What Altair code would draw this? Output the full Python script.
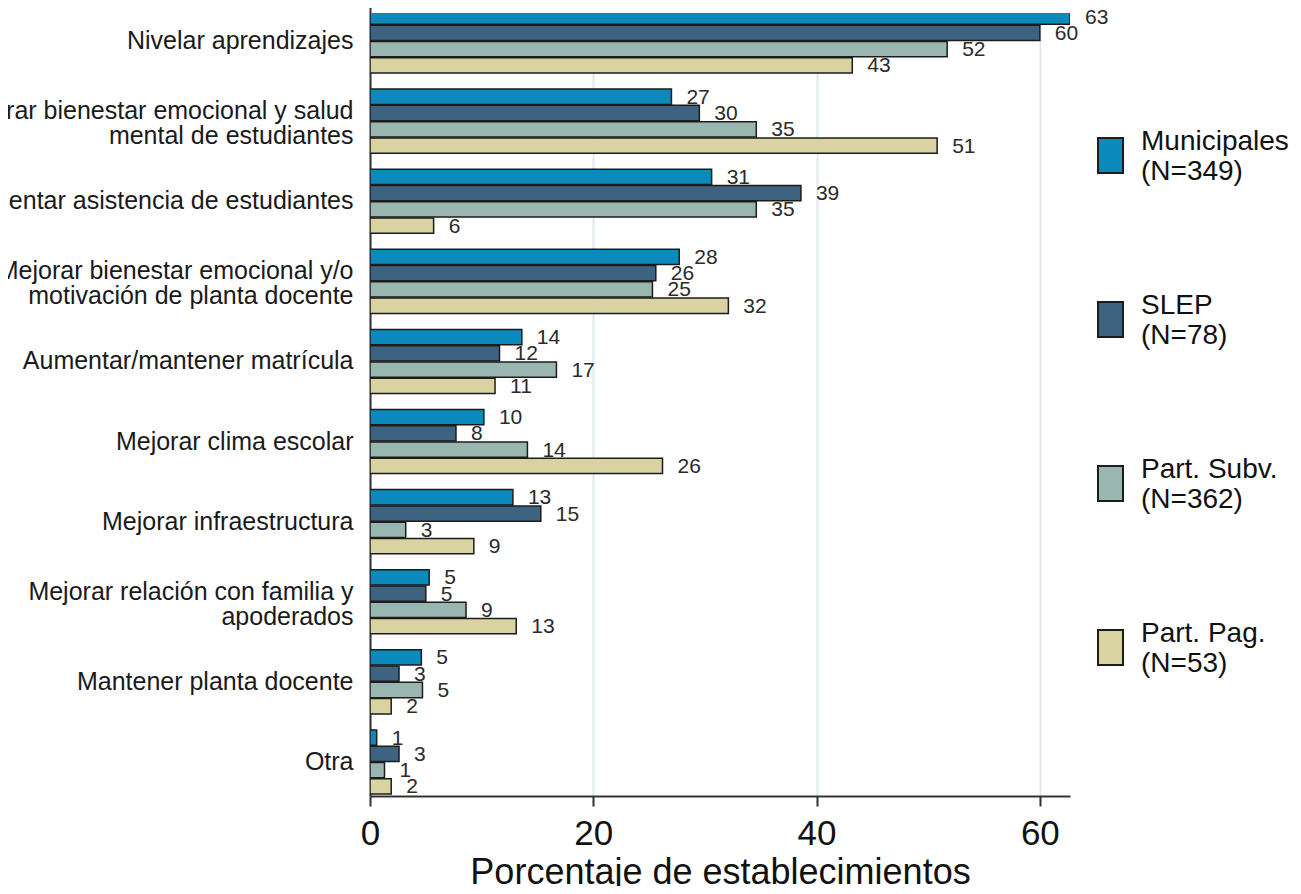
import altair as alt
import pandas as pd

categories = [
    "Nivelar aprendizajes",
    "Mejorar bienestar emocional y salud|mental de estudiantes",
    "Aumentar asistencia de estudiantes",
    "Mejorar bienestar emocional y/o|motivación de planta docente",
    "Aumentar/mantener matrícula",
    "Mejorar clima escolar",
    "Mejorar infraestructura",
    "Mejorar relación con familia y|apoderados",
    "Mantener planta docente",
    "Otra",
]
series = ["Municipales|(N=349)", "SLEP|(N=78)", "Part. Subv.|(N=362)", "Part. Pag.|(N=53)"]
colors = ["#0b8abd", "#3e6381", "#9ab6b0", "#d8d3a0"]

municipales = [62.7, 27.0, 30.6, 27.7, 13.6, 10.2, 12.8, 5.3, 4.6, 0.6]
slep = [60.0, 29.5, 38.6, 25.6, 11.6, 7.7, 15.3, 5.0, 2.6, 2.6]
part_subv = [51.7, 34.6, 34.6, 25.3, 16.7, 14.1, 3.2, 8.6, 4.7, 1.3]
part_pag = [43.2, 50.8, 5.7, 32.1, 11.2, 26.2, 9.3, 13.1, 1.9, 1.9]

rows = []
for s, vals in zip(series, [municipales, slep, part_subv, part_pag]):
    for c, v in zip(categories, vals):
        rows.append({"cat": c, "serie": s, "val": v, "lab": str(int(round(v)))})
df = pd.DataFrame(rows)

FONT = "Liberation Sans"

y_enc = alt.Y(
    "cat:N",
    sort=categories,
    scale=alt.Scale(range=[-6, 783], paddingInner=0.2, paddingOuter=0.025),
    axis=alt.Axis(
        title=None,
        labelExpr="split(datum.label, '|')",
        labelFontSize=25,
        labelLineHeight=25,
        labelColor="#1a1a1a",
        labelPadding=17,
        labelLimit=0,
        labelOffset={"condition": {"test": "indexof(datum.value, '|') >= 0", "value": -10}, "value": 0},
        ticks=False,
        domainColor="#333333",
        domainWidth=2,
        grid=False,
    ),
)
yoff_enc = alt.YOffset("serie:N", sort=series, scale=alt.Scale(domain=series, paddingInner=0.06, paddingOuter=0))
x_enc = alt.X(
    "val:Q",
    scale=alt.Scale(domain=[0, 62.7], nice=False),
    axis=alt.Axis(
        title="Porcentaje de establecimientos",
        values=[0, 20, 40, 60],
        labelFontSize=35,
        labelColor="#111111",
        labelPadding=10,
        labelFlush=False,
        tickSize=10,
        tickWidth=2,
        tickColor="#333333",
        domainColor="#333333",
        domainWidth=2,
        grid=True,
        gridColor="#dde9ef",
        gridWidth=2,
        titleFontSize=36,
        titleFontWeight="normal",
        titleColor="#111111",
        titlePadding=4,
    ),
)

bars = alt.Chart(df).mark_bar(stroke="#1c1c1c", strokeWidth=1.5, clip=True).encode(
    y=y_enc,
    yOffset=yoff_enc,
    x=x_enc,
    color=alt.Color(
        "serie:N",
        sort=series,
        scale=alt.Scale(domain=series, range=colors),
        legend=alt.Legend(
            title=None,
            orient="none",
            legendX=722,
            legendY=124,
            labelExpr="split(datum.label, '|')",
            labelFontSize=28,
            labelBaseline="bottom",
            labelColor="#111111",
            labelOffset=12,
            labelLimit=0,
            symbolType="M-0.714,-1L0.714,-1L0.714,1L-0.714,1Z",
            symbolSize=1225,
            symbolStrokeColor="#1c1c1c",
            symbolStrokeWidth=2,
            symbolOpacity=1,
            rowPadding=105,
            padding=0,
        ),
    ),
)

labels = alt.Chart(df).mark_text(
    align="left", baseline="middle", dx=15, dy=1, fontSize=21, color="#2a2a2a"
).encode(y=y_enc, yOffset=yoff_enc, x=x_enc, text="lab:N")

chart = (
    alt.layer(bars, labels)
    .properties(
        width=700,
        height=783,
        padding={"left": 362, "top": 5, "right": 223, "bottom": 90},
        autosize=alt.AutoSizeParams(type="none"),
    )
    .configure(font=FONT)
    .configure_view(stroke=None)
)

chart.save("out.html", embed_options={"renderer": "svg", "actions": False})
